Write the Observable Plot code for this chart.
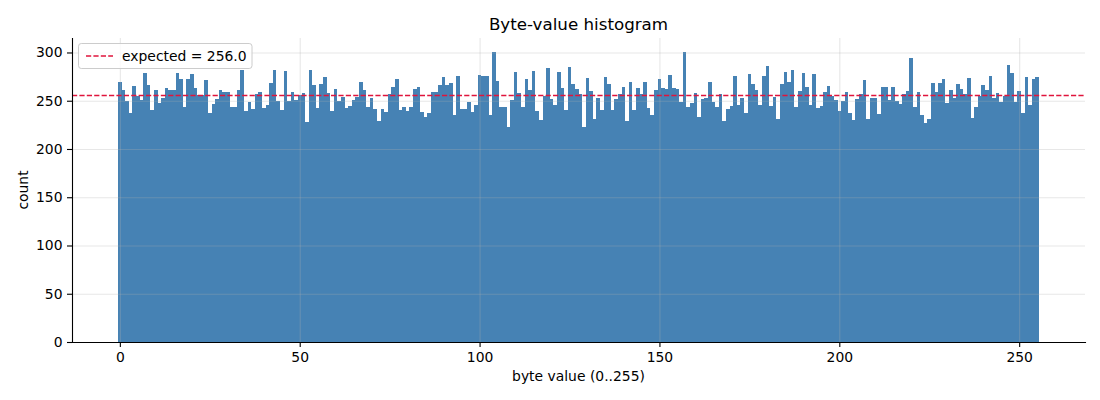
<!DOCTYPE html>
<html>
<head>
<meta charset="utf-8">
<script src="https://cdn.jsdelivr.net/npm/d3@7"></script>
<script src="https://cdn.jsdelivr.net/npm/@observablehq/plot@0.6"></script>
<style>
  html, body { margin: 0; padding: 0; background: white; }
  #wrap { position: relative; width: 1100px; height: 400px; font-family: "DejaVu Sans", sans-serif; }
  #title { position: absolute; left: 72px; width: 1013px; top: 14px; text-align: center;
           font-size: 16.7px; line-height: 20px; color: black; }
  #chart { position: absolute; left: 0; top: 38px; }
</style>
</head>
<body>
<div id="wrap">
  <div id="title">Byte-value histogram</div>
  <div id="chart"></div>
</div>
<script>
const counts = [
  269, 261, 250, 237, 265, 255, 251, 279, 266, 240, 261, 248, 253, 263, 261, 261,
  279, 273, 244, 272, 278, 263, 256, 256, 271, 237, 247, 252, 261, 259, 259, 243,
  244, 261, 282, 239, 249, 241, 257, 259, 242, 246, 268, 282, 250, 240, 281, 250,
  259, 251, 256, 258, 228, 282, 266, 242, 267, 275, 258, 239, 262, 250, 254, 242,
  245, 251, 254, 269, 261, 244, 253, 241, 229, 241, 238, 257, 264, 273, 240, 243,
  239, 243, 262, 264, 238, 233, 237, 259, 259, 266, 275, 266, 268, 235, 276, 241,
  241, 249, 238, 246, 277, 276, 276, 235, 300, 270, 244, 244, 223, 251, 280, 258,
  244, 272, 261, 281, 239, 230, 255, 284, 252, 246, 280, 263, 240, 285, 267, 262,
  257, 223, 274, 260, 231, 253, 240, 275, 267, 240, 252, 257, 264, 229, 269, 240,
  263, 257, 269, 242, 235, 261, 272, 263, 262, 277, 263, 262, 249, 300, 244, 248,
  258, 233, 252, 253, 269, 249, 243, 257, 229, 241, 245, 276, 246, 253, 237, 278,
  267, 261, 246, 276, 286, 245, 254, 231, 267, 280, 269, 282, 244, 260, 279, 264,
  246, 278, 242, 245, 259, 265, 255, 251, 239, 250, 259, 237, 230, 252, 257, 271,
  231, 253, 253, 236, 264, 264, 251, 264, 250, 247, 257, 260, 294, 243, 259, 235,
  227, 231, 268, 259, 268, 272, 248, 261, 253, 267, 262, 257, 274, 232, 244, 255,
  266, 261, 276, 253, 258, 249, 255, 287, 279, 249, 260, 237, 275, 246, 272, 275
];
const byteValues = counts.map((_, i) => i);
const expected = 256.0;
const xTicks = [0, 50, 100, 150, 200, 250];
const yTicks = [0, 50, 100, 150, 200, 250, 300];
const titleText = "Byte-value histogram";
const xLabel = "byte value (0..255)";
const yLabel = "count";
const legendLabel = "expected = 256.0";

const bins = byteValues.map((b, i) => ({byte: b, count: counts[i]}));

const W = 1100, H = 362, mL = 72, mR = 15, mT = 0, mB = 58;
const barColor = "#4682b4";
const lineColor = "#e0143c";
const gridStyle = {stroke: "#b0b0b0", strokeOpacity: 0.3, strokeWidth: 1.1};

const plot = Plot.plot({
  width: W, height: H,
  marginTop: mT, marginLeft: mL, marginRight: mR, marginBottom: mB,
  style: {fontFamily: "DejaVu Sans, sans-serif", fontSize: "13.9px", color: "black", background: "white", overflow: "visible"},
  x: {domain: [-13.3, 268.3]},
  y: {domain: [0, 315]},
  marks: [
    Plot.rectY(bins, {x1: d => d.byte - 0.5, x2: d => d.byte + 0.5, y: "count", fill: barColor, shapeRendering: "crispEdges"}),
    Plot.gridX(xTicks, gridStyle),
    Plot.gridY(yTicks, gridStyle),
    Plot.ruleY([expected], {stroke: lineColor, strokeWidth: 1.4, strokeDasharray: "5.2,2.2"}),
    Plot.frame({anchor: "left", stroke: "black", strokeWidth: 1.1}),
    Plot.frame({anchor: "bottom", stroke: "black", strokeWidth: 1.1}),
    Plot.axisX(xTicks, {tickSize: 5, tickPadding: 5, label: null, stroke: "black", strokeWidth: 1.1}),
    Plot.axisY(yTicks, {tickSize: 5, tickPadding: 5, label: null, stroke: "black", strokeWidth: 1.1})
  ]
});
document.getElementById("title").textContent = titleText;
document.getElementById("chart").appendChild(plot);

const svg = d3.select(plot);
// axis labels
svg.append("text")
  .attr("x", mL + (W - mL - mR) / 2).attr("y", 343)
  .attr("text-anchor", "middle").attr("fill", "black")
  .style("font-size", "13.9px").text(xLabel);
svg.append("text")
  .attr("transform", `translate(27.5, ${(H - mB) / 2}) rotate(-90)`)
  .attr("text-anchor", "middle").attr("fill", "black")
  .style("font-size", "13.9px").text(yLabel);
// legend
const lg = svg.append("g");
lg.append("rect").attr("x", 78.5).attr("y", 5.5).attr("width", 173.5).attr("height", 25)
  .attr("rx", 2.8).attr("fill", "white").attr("fill-opacity", 0.8).attr("stroke", "#cccccc").attr("stroke-width", 1);
lg.append("line").attr("x1", 86).attr("x2", 113).attr("y1", 18).attr("y2", 18)
  .attr("stroke", lineColor).attr("stroke-width", 1.4).attr("stroke-dasharray", "5.2,2.2");
lg.append("text").attr("x", 122).attr("y", 23).attr("fill", "black")
  .attr("text-anchor", "start")
  .style("font-size", "13.9px").text(legendLabel);
</script>
</body>
</html>
